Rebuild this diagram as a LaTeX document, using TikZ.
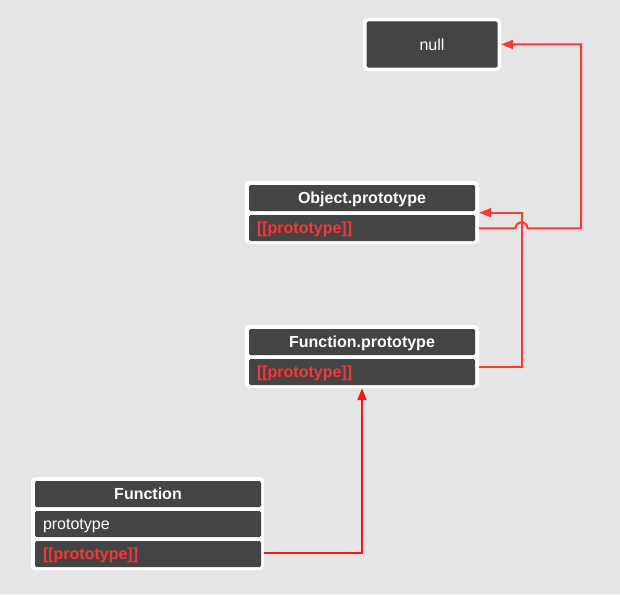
\documentclass[tikz,border=0pt]{standalone}
\usepackage{fontspec}
\setmainfont{Liberation Sans}
\usetikzlibrary{arrows.meta}
\definecolor{bg}{HTML}{E5E5E5}
\definecolor{dark}{HTML}{444444}
\definecolor{lred}{HTML}{FF3636}
\definecolor{pred}{HTML}{FF1414}
\definecolor{tred}{HTML}{FF3333}
\tikzset{
  outerbox/.style={fill=white, rounded corners=4pt, inner sep=0pt, draw=none},
  txt/.style={text height=14.5pt, text depth=3.4pt},
  headbox/.style={txt, fill=dark, rounded corners=1.5pt, inner sep=0pt, minimum width=226pt, minimum height=26pt,
    text=white, font=\fontsize{16}{18}\selectfont\bfseries},
  rowbox/.style={txt, fill=dark, rounded corners=1.5pt, inner ysep=0pt, inner xsep=8pt, text width=210pt, align=left,
    minimum height=26pt, text=white, font=\fontsize{16}{18}\selectfont},
  protorow/.style={rowbox, text=tred, font=\fontsize{16}{18}\selectfont\bfseries},
  link/.style={draw=lred, line width=2pt, -{Triangle[length=12pt,width=9pt]}},
}
\begin{document}
\begin{tikzpicture}[x=1pt,y=-1pt]
\fill[bg] (0,0) rectangle (620,594);
\useasboundingbox (0,0) rectangle (620,594);
% null
\node[outerbox, minimum width=138pt, minimum height=53pt] (nu) at (432,44.5) {};
\node[txt, fill=dark, rounded corners=1.5pt, minimum width=131pt, minimum height=46pt, inner sep=0pt,
  text=white, font=\fontsize{16}{18}\selectfont] (nuin) at (432,44.5) {null};
% Object.prototype
\node[outerbox, minimum width=234pt, minimum height=63pt] (op) at (362,212.5) {};
\node[headbox] (ophead) at (362,198) {Object.prototype};
\node[protorow] (oprow) at (362,228) {[[prototype]]};
% Function.prototype
\node[outerbox, minimum width=234pt, minimum height=63pt] (fp) at (362,356.5) {};
\node[headbox] (fphead) at (362,342) {Function.prototype};
\node[protorow] (fprow) at (362,372) {[[prototype]]};
% Function
\node[outerbox, minimum width=233pt, minimum height=93pt] (fn) at (147.5,523.5) {};
\node[headbox] (fnhead) at (148,494) {Function};
\node[rowbox] (fnrow1) at (148,524) {prototype};
\node[protorow] (fnrow2) at (148,554) {[[prototype]]};
% connectors
\coordinate (hop) at (521.5,228.3);
\coordinate (turn) at (581,228.3);
\coordinate (v2) at (521.5,212.7);
\draw[link] (op.east |- hop) -- ([xshift=-6pt]hop) arc[start angle=180,end angle=0,radius=6pt] -- (turn) |- (nu.east);
\draw[link] (fp.east |- 0,366.7) -| (v2) -- (op.east |- v2);
\draw[link, draw=pred] (fn.east |- 0,553.3) -| (fp.south);
\end{tikzpicture}
\end{document}
